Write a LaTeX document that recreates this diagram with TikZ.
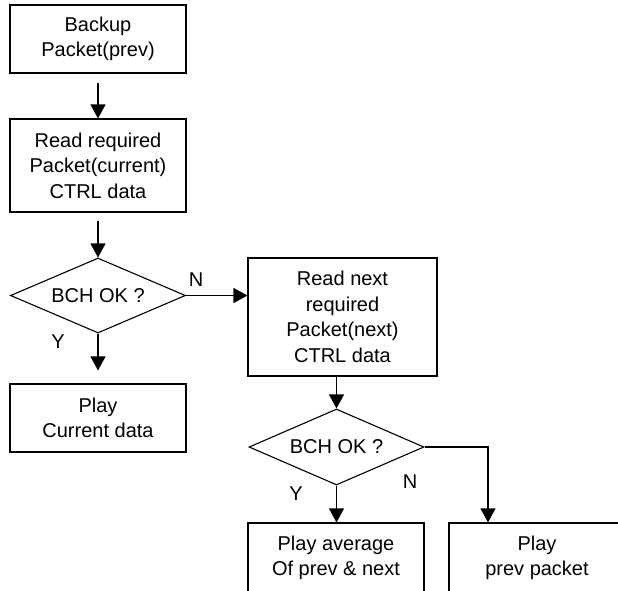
\documentclass[tikz,border=0pt]{standalone}
\usepackage{fontspec}
\setmainfont{Liberation Sans}
\usetikzlibrary{shapes.geometric,arrows.meta}
\begin{document}
\begin{tikzpicture}[x=1pt,y=-1pt,
 txt/.style={font=\fontsize{20}{25.5}\selectfont},
 box/.style={txt,draw,line width=1.1pt,inner sep=0pt,align=center,minimum width=176pt,minimum height=68pt},
 dec/.style={txt,draw,diamond,line width=1.1pt,inner sep=0pt,aspect=2.33,minimum width=175pt,minimum height=75pt},
 arr/.style={line width=1.1pt,-{Triangle[width=15pt,length=14pt]}},
 lbl/.style={txt,inner sep=0pt}]
\useasboundingbox (0,0) rectangle (618,590);
\clip (0,0) rectangle (618,590);
\node[box] (b1) at (98,39) {Backup\\Packet(prev)};
\node[box,minimum height=93pt] (b2) at (98,165.5) {Read required\\Packet(current)\\CTRL data};
\node[dec] (d1) at (98,295.5) {BCH OK ?};
\node[box,minimum width=189pt,minimum height=118pt] (b3) at (342.5,317) {Read next\\required\\Packet(next)\\CTRL data};
\node[box] (b4) at (98,418) {Play\\Current data};
\node[dec,minimum height=76pt] (d2) at (336.5,447) {BCH OK ?};
\node[box,minimum height=70pt] (b5) at (336,558) {Play average\\Of prev \& next};
\node[box,minimum height=70pt] (b6) at (537,558) {Play\\prev packet};
\node[lbl] (n1) at (196,280) {N};
\node[lbl] (y1) at (58,342) {Y};
\node[lbl] (n2) at (410,482) {N};
\node[lbl] (y2) at (296,494) {Y};
\draw[arr,shorten <=9pt] (b1) -- (b2);
\draw[arr,shorten <=8pt] (b2) -- (d1);
\draw[arr] (d1.east) -- (b3.west |- d1.east);
\draw[arr,shorten >=13pt] (d1.south) -- (b4.north);
\draw[arr] (b3.south -| d2.north) -- (d2.north);
\draw[arr] (d2.south) -- (d2.south |- b5.north);
\draw[arr] (d2.east) -| (488,0 |- b6.north);
\end{tikzpicture}
\end{document}
